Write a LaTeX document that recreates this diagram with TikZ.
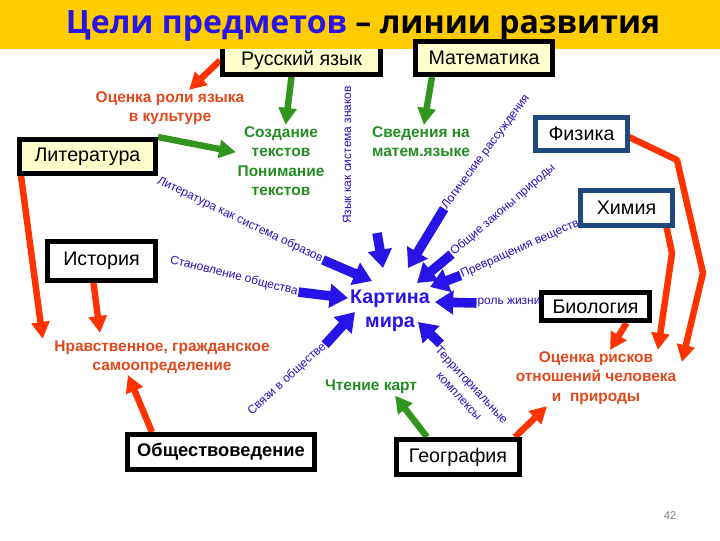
\documentclass[tikz,border=0pt]{standalone}
\usepackage{fontspec}
\setmainfont{Liberation Sans}
\newfontfamily\titlefont{Open Sans}
\usepackage{xcolor}
\usetikzlibrary{arrows.meta,positioning}
\definecolor{bandyellow}{RGB}{255,204,0}
\definecolor{boxyellow}{RGB}{255,255,204}
\definecolor{arrred}{RGB}{255,51,0}
\definecolor{txtred}{RGB}{226,72,28}
\definecolor{arrgreen}{RGB}{50,150,30}
\definecolor{txtgreen}{RGB}{35,140,35}
\definecolor{arrblue}{RGB}{40,20,230}
\definecolor{lblblue}{RGB}{45,10,190}
\definecolor{navy}{RGB}{31,73,125}
\pgfdeclarelayer{bg}
\pgfsetlayers{bg,main}

\begin{document}
\begin{tikzpicture}[x=0.025cm,y=-0.025cm,
  subj/.style={draw,line width=3.5pt,fill=white,inner sep=0pt,font=\fontsize{14}{16}\selectfont},
  goal/.style={font=\fontsize{11}{13.5}\selectfont\bfseries,align=center,inner sep=1pt},
  lbl/.style={text=lblblue,font=\fontsize{8.5}{12}\selectfont,inner sep=0.5pt},
  redarr/.style={draw=arrred,line width=4.6pt,line join=round,-{Triangle[length=12pt,width=12.5pt]}},
  greenarr/.style={draw=arrgreen,line width=4.6pt,-{Triangle[length=12pt,width=12.5pt]}},
  bluearr/.style={draw=arrblue,line width=6.8pt,-{Triangle[length=13pt,width=16.5pt]}}]
\useasboundingbox (0,0) rectangle (720,540);

% subjects
\node[subj,fill=boxyellow,minimum width=3.95cm,minimum height=0.7cm] (rus) at (301.5,60.5) {Русский язык};
\fill[bandyellow] (0,0) rectangle (720,49);
\node[anchor=base,font=\fontsize{22.8}{26}\selectfont\titlefont\bfseries] (title) at (363,33)
  {\textcolor{arrblue}{Цели предметов} – линии развития};
\node[subj,fill=boxyellow,minimum width=3.425cm,minimum height=0.825cm] (mat) at (484,58) {Математика};
\node[subj,fill=boxyellow,minimum width=3.4cm,minimum height=0.85cm] (lit) at (87.5,156.5) {Литература};
\node[subj,minimum width=2.7cm,minimum height=0.975cm] (ist) at (101.5,261) {История};
\node[subj,draw=navy,line width=3pt,minimum width=2.3cm,minimum height=0.825cm] (fiz) at (581.5,134) {Физика};
\node[subj,draw=navy,line width=3pt,minimum width=2.3cm,minimum height=0.875cm] (him) at (626.5,208) {Химия};
\node[subj,minimum width=2.7cm,minimum height=0.7cm] (bio) at (595.5,306.5) {Биология};
\node[subj,font=\fontsize{13}{15}\selectfont\bfseries,minimum width=4.675cm,minimum height=0.875cm] (obsh) at (221,452) {Обществоведение};
\node[subj,minimum width=3.075cm,minimum height=0.875cm] (geo) at (458,457) {География};

% goals
\node[goal,text=txtred] (rolelang) at (170,108) {Оценка роли языка\\в культуре};
\node[goal,text=txtgreen,font=\fontsize{11}{13.8}\selectfont\bfseries] (texts) at (281,161) {Создание\\текстов\\Понимание\\текстов};
\node[goal,text=txtgreen] (mathlang) at (421,141.5) {Сведения на\\матем.языке};
\node[goal,text=txtred] (moral) at (162,357) {Нравственное, гражданское\\самоопределение};
\node[goal,text=txtred,font=\fontsize{11}{13.8}\selectfont\bfseries] (risks) at (596,378) {Оценка рисков\\отношений человека\\и~ природы};
\node[goal,text=txtgreen] (readmap) at (371,387) {Чтение карт};
\node[text=arrblue,font=\fontsize{14}{17}\selectfont\bfseries,align=center] (kart) at (390,311) {Картина\\мира};

% lines to the picture of the world
\node[lbl,rotate=-25.7] (litlab) at (240,220) {Литература как система образов};
\node[lbl,rotate=90] (langlab) at (347,155) {Язык как система знаков};
\node[lbl,rotate=53.5] (logic) at (486,152) {Логические рассуждения};
\node[lbl,rotate=40.7] (laws) at (503,210) {Общие законы природы};
\node[lbl,rotate=24] (transf) at (520,249) {Превращения веществ};
\node[lbl] (life) at (509,303) {роль жизни};
\node[lbl,rotate=-14] (society) at (234,276) {Становление общества};
\node[lbl,rotate=42] (links) at (287,379) {Связи в обществе};
\node[lbl,rotate=-47,align=center] (terr) at (465.5,390.5) {Территориальные\\комплексы};
\coordinate (langstart) at (377,233);
\coordinate (himbend) at (672,253);
\coordinate (fizbend) at (677,160);
\coordinate (fizbend2) at (703,273);

\node[font=\fontsize{8}{10}\selectfont,text=gray] (pagenum) at (670,516) {42};

\begin{pgfonlayer}{bg}
\draw[redarr] (rus.west) -- (rolelang);
\draw[greenarr] ([xshift=-0.25cm]rus.south) -- (texts);
\draw[greenarr] ([xshift=-1.3cm]mat.south) -- (mathlang);
\draw[greenarr] (lit.north east) -- (texts);
\draw[redarr] ([xshift=0.1cm]lit.south west) -- ([xshift=-0.25cm]moral.north west);
\draw[redarr] ([xshift=-0.2cm]ist.south) -- ([xshift=-1.55cm,yshift=0.15cm]moral.north);
\draw[redarr] ([xshift=-1.725cm]obsh.north) -- ([xshift=-0.85cm]moral.south);
\draw[greenarr] ([xshift=-0.775cm]geo.north) -- ([xshift=0.6cm]readmap.south);
\draw[redarr] ([xshift=-0.175cm]geo.north east) -- ([xshift=-1.225cm]risks.south);
\draw[redarr] ([xshift=0.775cm]bio.south) -- ([xshift=0.35cm]risks.north);
\draw[redarr] ([xshift=-0.2cm]him.south east) -- (himbend) -- ([xshift=-0.5cm]risks.north east);
\draw[redarr] ([xshift=-0.175cm]fiz.east) -- (fizbend) -- (fizbend2) -- ([xshift=0.1cm,yshift=-0.3cm]risks.north east);
\foreach \src/\dx/\dy in {litlab.east/-18/-30, langstart/-7/-43, logic.west/18/-43,
                          laws.west/27/-28, transf.west/40/-24, life.west/45/-9,
                          society.east/-42/-13, links.east/-35/1, terr.north west/28/11}
  \draw[bluearr] (\src) -- ([shift={(\dx,\dy)}]kart.center);
\end{pgfonlayer}
\end{tikzpicture}
\end{document}
